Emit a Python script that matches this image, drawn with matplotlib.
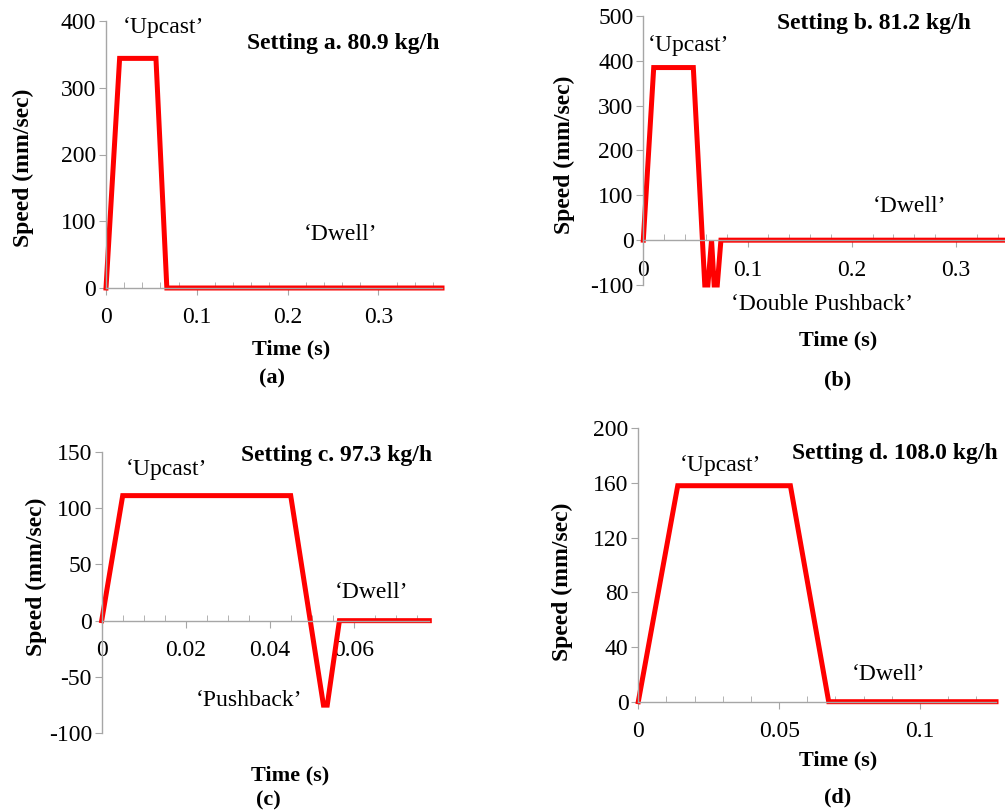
import numpy as np
import matplotlib
matplotlib.use('Agg')
import matplotlib.pyplot as plt
from matplotlib.ticker import MultipleLocator

plt.rcParams['font.family'] = ['Liberation Serif', 'DejaVu Serif']
plt.rcParams['axes.unicode_minus'] = False

W, H = 1005, 810

# panel data: time (s), speed (mm/sec)
t_a = [0, 0.015, 0.055, 0.067, 0.37]
v_a = [0, 344, 344, 0, 0]

t_b = [0, 0.010, 0.048, 0.059, 0.062, 0.0655, 0.068, 0.071, 0.0745, 0.35]
v_b = [0, 385, 385, -100, -100, 0, -100, -100, 0, 0]

t_c = [0, 0.005, 0.045, 0.0528, 0.0537, 0.0566, 0.078]
v_c = [0, 111, 111, -75, -75, 0, 0]

t_d = [0, 0.014, 0.054, 0.0676, 0.127]
v_d = [0, 158, 158, 0, 0]

titles = ['Setting a. 80.9 kg/h', 'Setting b. 81.2 kg/h',
          'Setting c. 97.3 kg/h', 'Setting d. 108.0 kg/h']

fig = plt.figure(figsize=(W / 100, H / 100), dpi=100)


def px_axes(l, r, t, b):
    return fig.add_axes([l / W, 1 - b / H, (r - l) / W, (b - t) / H])


def ftext(x, y, s, **kw):
    fig.text(x / W, 1 - y / H, s, ha='center', va='center', **kw)


def style(ax, xlim, ylim, xmaj, xmin, ymaj, zero_axis=False):
    ax.set_xlim(*xlim)
    ax.set_ylim(*ylim)
    ax.xaxis.set_major_locator(MultipleLocator(xmaj))
    ax.xaxis.set_minor_locator(MultipleLocator(xmin))
    ax.yaxis.set_major_locator(MultipleLocator(ymaj))
    for s in ['top', 'right']:
        ax.spines[s].set_visible(False)
    for s in ['left', 'bottom']:
        ax.spines[s].set_color('#a6a6a6')
        ax.spines[s].set_linewidth(1.0)
    if zero_axis:
        ax.spines['bottom'].set_position(('data', 0))
    ax.tick_params(which='major', axis='both', direction='out', length=5,
                   color='#a6a6a6', labelsize=17, pad=2)
    ax.tick_params(which='minor', axis='x', direction='in', length=4,
                   color='#a6a6a6')
    ax.tick_params(axis='x', pad=9)
    ax.patch.set_visible(False)


red = dict(color='#ff0000', lw=3.6, solid_joinstyle='miter', clip_on=False)
qt = lambda s: '\u2018' + s + '\u2019'
bold = dict(fontsize=17, fontweight='bold')
lab = dict(fontsize=16, fontweight='bold')
ylab = dict(fontsize=17, fontweight='bold', rotation=90)

# (a)
ax = px_axes(106, 442, 21, 288)
ax.plot(t_a, v_a, **red)
style(ax, (0, 0.37), (0, 400), 0.1, 0.02, 100)
ax.set_xticks([0, 0.1, 0.2, 0.3])
ax.set_xticklabels(['0', '0.1', '0.2', '0.3'])
ftext(163, 27, qt('Upcast'), fontsize=17)
ftext(343, 44, titles[0], **bold)
ftext(340, 235, qt('Dwell'), fontsize=17)
ftext(291, 349, 'Time (s)', **lab)
ftext(272, 378, '(a)', **lab)
ftext(23, 168, 'Speed (mm/sec)', **ylab)

# (b)
ax = px_axes(643.3, 1008, 16, 285)
ax.plot(t_b, v_b, **red)
style(ax, (0, 0.35), (-100, 500), 0.1, 0.02, 100, zero_axis=True)
ax.set_xticks([0, 0.1, 0.2, 0.3])
ax.set_xticklabels(['0', '0.1', '0.2', '0.3'])
ftext(688, 45, qt('Upcast'), fontsize=17)
ftext(874, 23, titles[1], **bold)
ftext(909, 207, qt('Dwell'), fontsize=17)
ftext(822, 305, qt('Double Pushback'), fontsize=17)
ftext(838, 340, 'Time (s)', **lab)
ftext(838, 380, '(b)', **lab)
ftext(564, 155, 'Speed (mm/sec)', **ylab)

# (c)
ax = px_axes(101.7, 429.3, 451.7, 733.3)
ax.plot(t_c, v_c, **red)
style(ax, (0, 0.078), (-100, 150), 0.02, 0.005, 50, zero_axis=True)
ax.set_xticks([0, 0.02, 0.04, 0.06])
ax.set_xticklabels(['0', '0.02', '0.04', '0.06'])
ftext(166, 470, qt('Upcast'), fontsize=17)
ftext(337, 455, titles[2], **bold)
ftext(371, 592, qt('Dwell'), fontsize=17)
ftext(249, 700, qt('Pushback'), fontsize=17)
ftext(290, 775, 'Time (s)', **lab)
ftext(268, 800, '(c)', **lab)
ftext(36, 577, 'Speed (mm/sec)', **ylab)

# (d)
ax = px_axes(638.3, 996, 428.3, 701.7)
ax.plot(t_d, v_d, **red)
style(ax, (0, 0.127), (0, 200), 0.05, 0.01, 40)
ax.set_xticks([0, 0.05, 0.1])
ax.set_xticklabels(['0', '0.05', '0.1'])
ftext(720, 465, qt('Upcast'), fontsize=17)
ftext(895, 453, titles[3], **bold)
ftext(888, 675, qt('Dwell'), fontsize=17)
ftext(838, 760, 'Time (s)', **lab)
ftext(838, 797, '(d)', **lab)
ftext(562, 582, 'Speed (mm/sec)', **ylab)

fig.savefig('out.png', dpi=100)
